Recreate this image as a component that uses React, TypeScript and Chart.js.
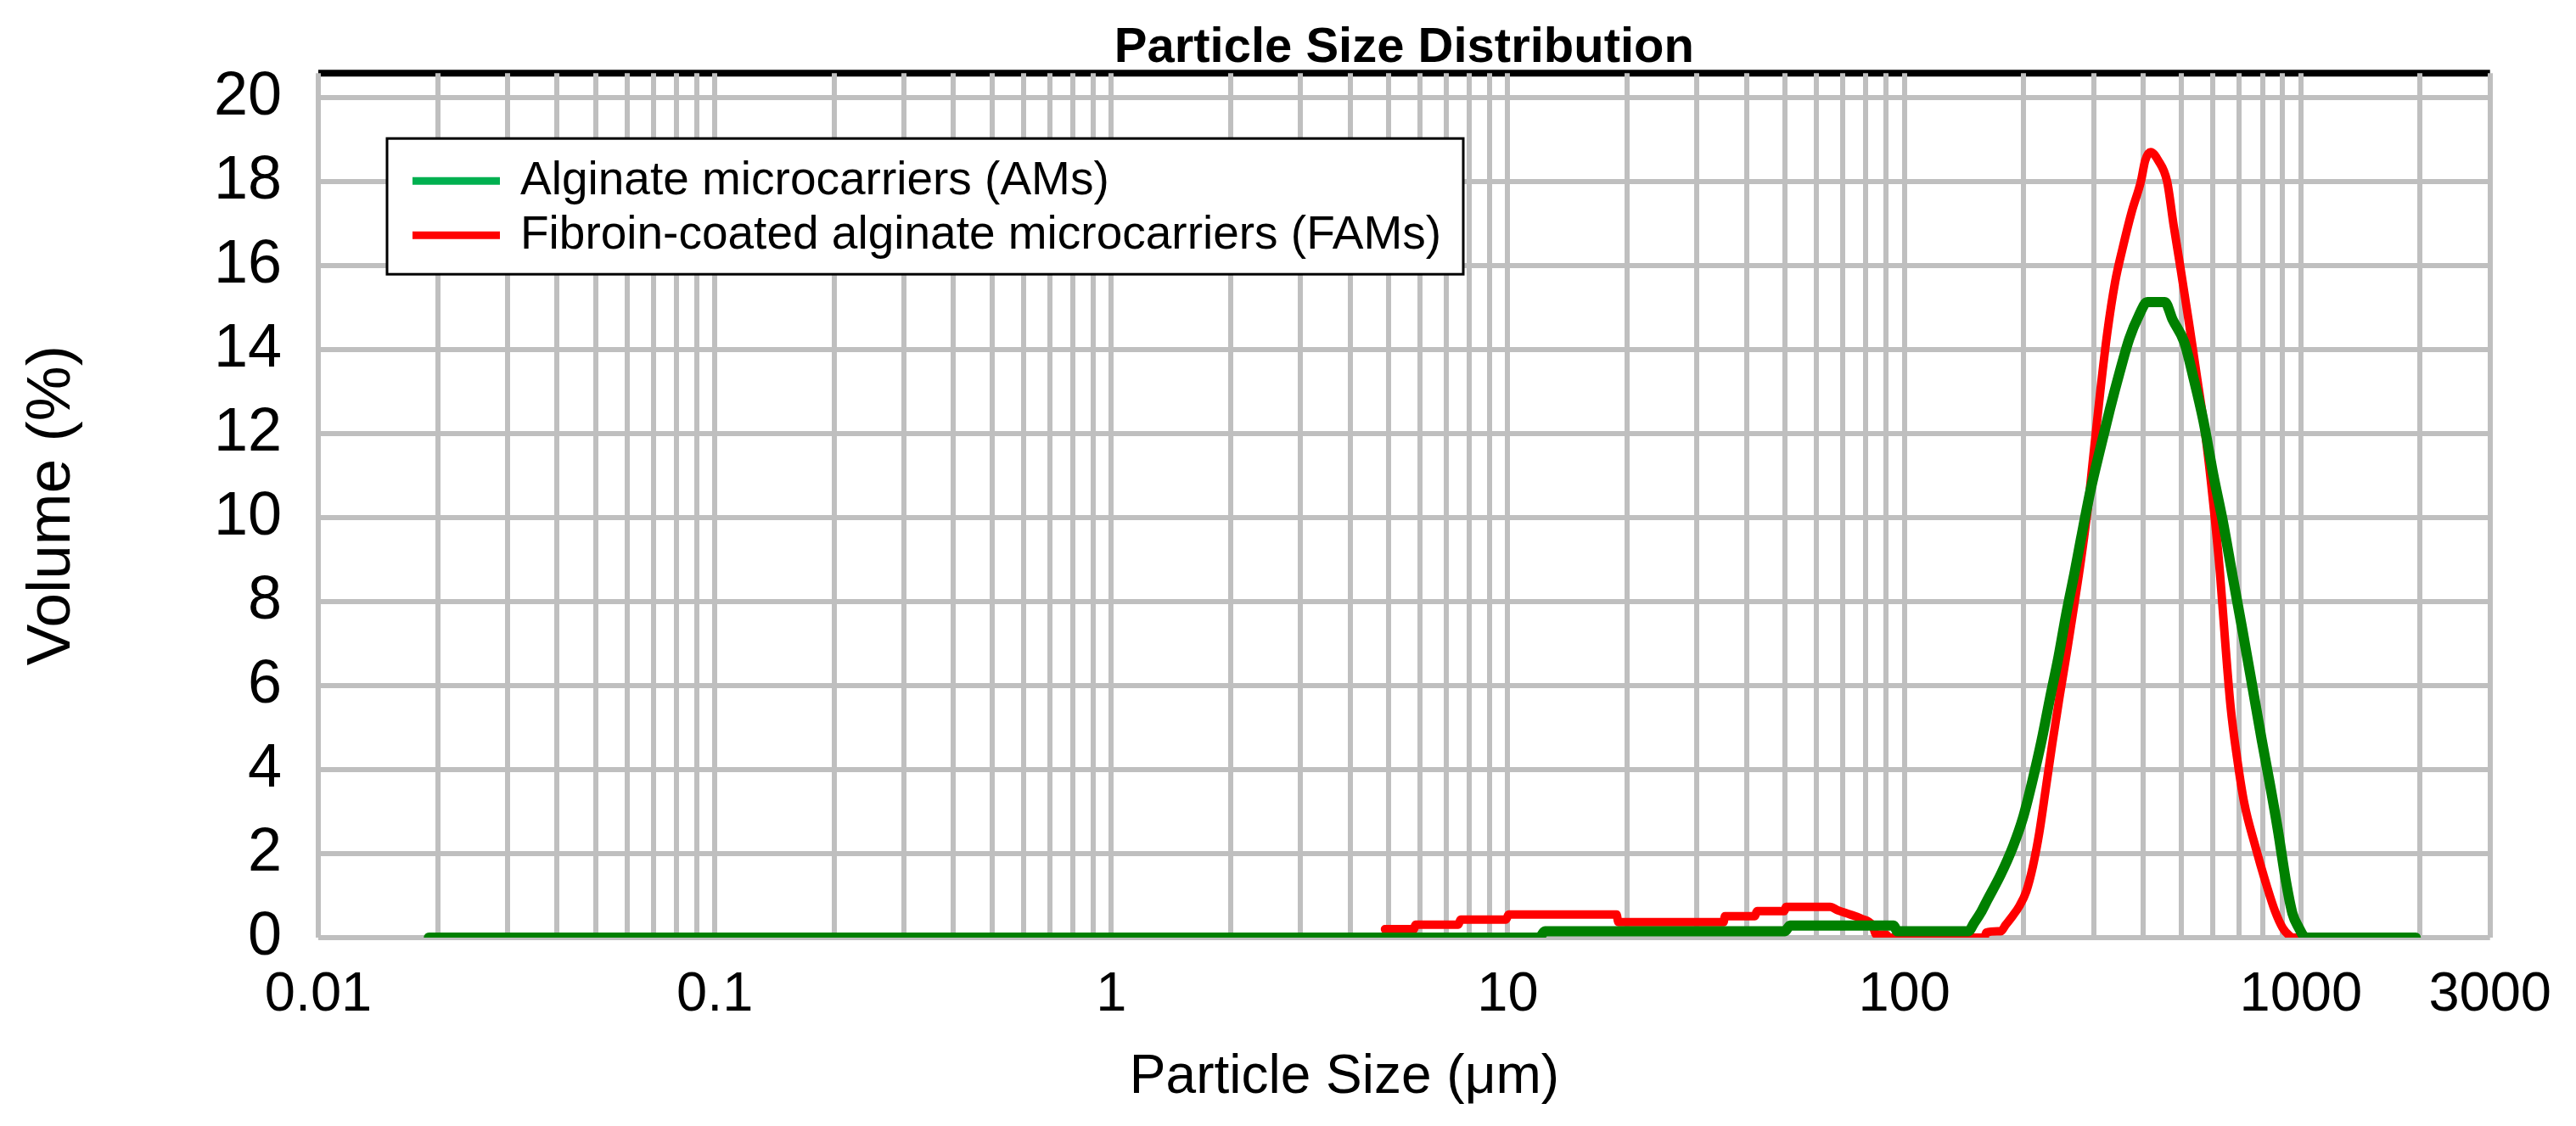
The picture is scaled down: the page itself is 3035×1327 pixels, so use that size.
import React, { useEffect, useRef } from 'react';
import { Chart, ChartConfiguration, registerables } from 'chart.js';

Chart.register(...registerables);

// Particle size (µm) / volume (%)
const AM_SIZE = [
  0.019, 12.0, 12.4, 50.0, 51.5, 94, 96, 145, 150, 156, 162, 175, 188, 199, 210, 222, 233, 245, 256, 269,
  279, 295, 312, 330, 349, 369, 390, 410, 454, 475, 508, 537, 568, 602, 636, 673, 713, 754, 797, 834,
  875, 916, 953, 989, 1014, 1030, 1950,
];
const AM_VOLUME = [
  0, 0, 0.15, 0.15, 0.29, 0.29, 0.15, 0.15, 0.35, 0.6, 0.9, 1.5, 2.17, 2.84, 3.7, 4.7, 5.7, 6.7, 7.7, 8.71,
  9.5, 10.66, 11.64, 12.58, 13.45, 14.25, 14.8, 15.13, 15.13, 14.71, 14.18, 13.3, 12.3, 11.0, 9.9, 8.6, 7.3, 6.0, 4.7, 3.7,
  2.57, 1.37, 0.57, 0.23, 0.05, 0, 0,
];

const FAM_SIZE = [
  4.9, 5.8, 5.85, 7.5, 7.6, 9.9, 10.05, 18.8, 19.0, 35.0, 35.3, 42.0, 42.5, 49.8, 50.3, 65, 68, 73, 78, 83,
  85, 90, 91.5, 159, 161, 172, 175, 180, 187, 195, 203, 211, 219, 227, 236, 246, 257, 268, 279, 290,
  300, 312, 325, 340, 355, 375, 395, 405, 418, 437, 460, 477, 496, 522, 548, 574, 602, 625, 645, 665,
  690, 720, 768, 812, 860, 900, 935, 955, 1000,
];
const FAM_VOLUME = [
  0.2, 0.2, 0.31, 0.31, 0.43, 0.43, 0.55, 0.55, 0.37, 0.37, 0.51, 0.51, 0.63, 0.63, 0.73, 0.73, 0.65, 0.55, 0.45, 0.3,
  0.07, 0.07, 0, 0, 0.12, 0.15, 0.15, 0.3, 0.5, 0.75, 1.1, 1.7, 2.5, 3.5, 4.6, 5.7, 6.8, 7.9, 9.0, 10.2,
  11.5, 13.0, 14.4, 15.6, 16.4, 17.3, 18.0, 18.5, 18.7, 18.5, 18.0, 17.0, 16.0, 14.65, 13.3, 12.0, 10.3, 8.7, 7.0, 5.5,
  4.3, 3.2, 2.17, 1.37, 0.64, 0.23, 0.05, 0, 0,
];

const SERIES_LABELS = ['Alginate microcarriers (AMs)', 'Fibroin-coated alginate microcarriers (FAMs)'];
const LINE_COLORS = ['#008000', '#ff0000'];
const LEGEND_COLORS = ['#00b050', '#ff0000'];

const Y_TICKS = [0, 2, 4, 6, 8, 10, 12, 14, 16, 18, 20];
const Y_MAX = 20.58;
const X_GRID = [
  0.01, 0.02, 0.03, 0.04, 0.05, 0.06, 0.07, 0.08, 0.09,
  0.1, 0.2, 0.3, 0.4, 0.5, 0.6, 0.7, 0.8, 0.9,
  1, 2, 3, 4, 5, 6, 7, 8, 9,
  10, 20, 30, 40, 50, 60, 70, 80, 90,
  100, 200, 300, 400, 500, 600, 700, 800, 900,
  1000, 2000, 3000,
];
const X_LABELS = ['0.01', '0.1', '1', '10', '100', '1000', '3000'];
const X_TITLE = 'Particle Size (μm)';

const FONT = '"Liberation Sans", Arial, sans-serif';
const GRID = '#bfbfbf';

// thick black rule along the top of the plot; grid lines get drawn over it
const topRule = {
  id: 'topRule',
  beforeDraw(chart: Chart) {
    const { ctx, chartArea } = chart;
    ctx.save();
    ctx.strokeStyle = '#000';
    ctx.lineWidth = 8;
    ctx.beginPath();
    ctx.moveTo(chartArea.left, chartArea.top);
    ctx.lineTo(chartArea.right, chartArea.top);
    ctx.stroke();
    ctx.restore();
  },
};

// x axis title sits a bit left of the plot centre in the original
const xTitle = {
  id: 'xTitle',
  afterDraw(chart: Chart) {
    const { ctx, chartArea } = chart;
    ctx.save();
    ctx.font = `64px ${FONT}`;
    ctx.fillStyle = '#000';
    ctx.textAlign = 'center';
    ctx.textBaseline = 'middle';
    ctx.fillText(X_TITLE, chartArea.left + 1209, chartArea.bottom + 165);
    ctx.restore();
  },
};

// boxed legend sitting inside the plot, top-left
const boxedLegend = {
  id: 'boxedLegend',
  afterDraw(chart: Chart) {
    const { ctx, chartArea } = chart;
    const x = chartArea.left + 81;
    const y = chartArea.top + 77;
    const w = 1268;
    const h = 160;
    ctx.save();
    ctx.fillStyle = '#fff';
    ctx.fillRect(x, y, w, h);
    ctx.strokeStyle = '#000';
    ctx.lineWidth = 3;
    ctx.strokeRect(x, y, w, h);
    ctx.font = `55px ${FONT}`;
    ctx.textBaseline = 'middle';
    chart.data.datasets.forEach((ds, i) => {
      const ly = y + 50 + i * 64;
      ctx.strokeStyle = LEGEND_COLORS[i];
      ctx.lineWidth = 9;
      ctx.beginPath();
      ctx.moveTo(x + 30, ly);
      ctx.lineTo(x + 133, ly);
      ctx.stroke();
      ctx.fillStyle = '#000';
      ctx.fillText(ds.label || '', x + 157, ly + 1);
    });
    ctx.restore();
  },
};

const ParticleSizeChart: React.FC = () => {
  const canvasRef = useRef<HTMLCanvasElement>(null);
  const chartRef = useRef<Chart | null>(null);

  useEffect(() => {
    if (!canvasRef.current) return;
    if (chartRef.current) chartRef.current.destroy();

    const config: ChartConfiguration = {
      type: 'line',
      data: {
        datasets: [
          {
            label: SERIES_LABELS[0],
            data: AM_SIZE.map((s, i) => ({ x: s, y: AM_VOLUME[i] })),
            borderColor: LINE_COLORS[0],
            borderWidth: 12,
          },
          {
            label: SERIES_LABELS[1],
            data: FAM_SIZE.map((s, i) => ({ x: s, y: FAM_VOLUME[i] })),
            borderColor: LINE_COLORS[1],
            borderWidth: 10,
          },
        ],
      },
      options: {
        responsive: true,
        maintainAspectRatio: false,
        animation: false,
        layout: { padding: { left: 0, right: 85, top: 0, bottom: 0 } },
        elements: {
          point: { radius: 0, hoverRadius: 0 },
          line: {
            cubicInterpolationMode: 'monotone',
            borderCapStyle: 'round',
            borderJoinStyle: 'round',
            fill: false,
          },
        },
        scales: {
          x: {
            type: 'logarithmic',
            min: 0.01,
            max: 3000,
            afterBuildTicks: (scale) => {
              scale.ticks = X_GRID.map((v) => ({ value: v }));
            },
            afterFit: (scale) => {
              scale.height = 222;
            },
            ticks: {
              autoSkip: false,
              maxRotation: 0,
              padding: 29,
              color: '#000',
              font: { family: FONT, size: 65 },
              callback: (value) => {
                const label = X_LABELS.find((l) => Math.abs(Number(l) - Number(value)) < 1e-9);
                return label ?? '';
              },
            },
            grid: { color: GRID, lineWidth: 6, drawTicks: false },
            border: { display: false },
          },
          y: {
            type: 'linear',
            min: 0,
            max: Y_MAX,
            afterBuildTicks: (scale) => {
              scale.ticks = Y_TICKS.map((v) => ({ value: v }));
            },
            afterFit: (scale) => {
              scale.width = 375;
            },
            ticks: {
              padding: 43,
              color: '#000',
              font: { family: FONT, size: 72 },
            },
            grid: { color: GRID, lineWidth: 6, drawTicks: false },
            border: { display: false },
            title: {
              display: true,
              text: 'Volume (%)',
              color: '#000',
              font: { family: FONT, size: 73 },
              padding: { top: 18, bottom: 0 },
            },
          },
        },
        plugins: {
          legend: { display: false },
          tooltip: { enabled: false },
          title: {
            display: true,
            text: 'Particle Size Distribution',
            fullSize: false,
            color: '#000',
            font: { family: FONT, size: 58, weight: 'bold', lineHeight: 1 },
            padding: { top: 19, bottom: 0 },
          },
        },
      },
      plugins: [topRule, xTitle, boxedLegend],
    };

    chartRef.current = new Chart(canvasRef.current, config);

    return () => {
      if (chartRef.current) {
        chartRef.current.destroy();
        chartRef.current = null;
      }
    };
  }, []);

  return (
    <div style={{ position: 'fixed', left: 0, top: 0, width: '100vw', height: '100vh', background: '#fff' }}>
      <canvas ref={canvasRef}></canvas>
    </div>
  );
};

export default function App() {
  return <ParticleSizeChart />;
}
